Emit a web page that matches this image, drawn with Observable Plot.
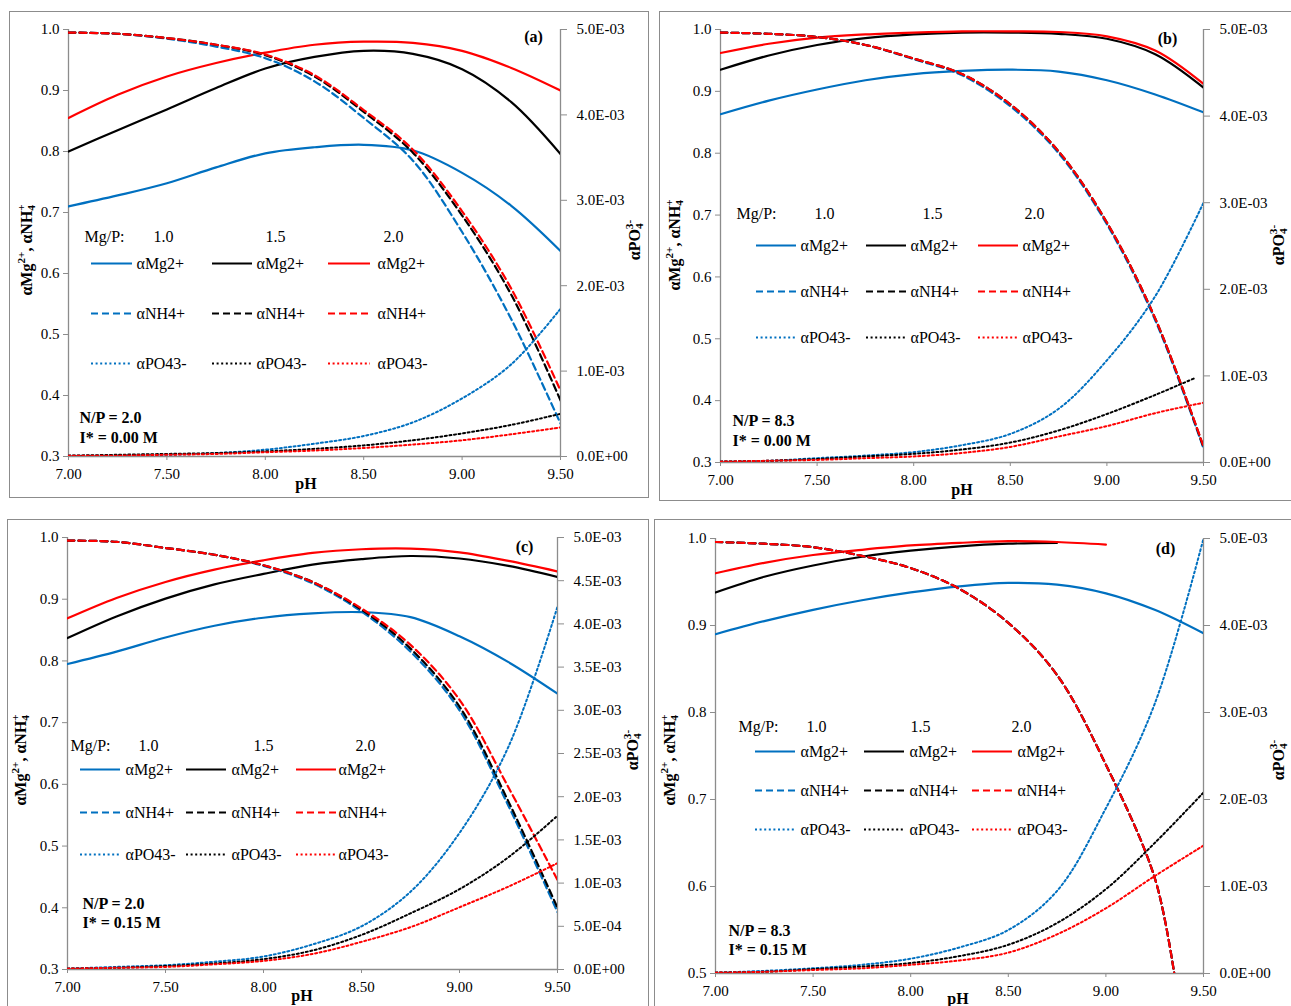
<!DOCTYPE html>
<html><head><meta charset="utf-8">
<script src="https://cdn.jsdelivr.net/npm/d3@7"></script>
<script src="https://cdn.jsdelivr.net/npm/@observablehq/plot@0.6"></script>
<style>
html,body{margin:0;padding:0;background:#fff;overflow:hidden}
#page{position:relative;width:1291px;height:1006px;overflow:hidden;background:#fff}
.panel{position:absolute;outline:1px solid #8c8c8c;background:#fff}
.panel svg{position:absolute;left:0;top:0;overflow:visible}
</style></head><body><div id="page"></div>
<script>
// ---------- data ----------
const pH = [7.00,7.25,7.50,7.75,8.00,8.25,8.50,8.75,9.00,9.25,9.50];
const pH_b15PO = [7.00,7.25,7.50,7.75,8.00,8.25,8.50,8.75,9.00,9.25,9.45];
const pH_d15Mg = [7.00,7.25,7.50,7.75,8.00,8.25,8.50,8.75];
const pH_d20Mg = [7.00,7.25,7.50,7.75,8.00,8.25,8.50,8.75,9.00];
const pH_dNH  = [7.00,7.25,7.50,7.75,8.00,8.25,8.50,8.75,9.00,9.25,9.35];

const mgpRatios = ["1.0","1.5","2.0"];
const speciesLabels = ["αMg2+","αNH4+","αPO43-"];

// (a) N/P = 2.0, I* = 0.00 M
const a_Mg10 = [0.710,0.728,0.748,0.774,0.797,0.807,0.811,0.802,0.765,0.711,0.637];
const a_Mg15 = [0.800,0.835,0.869,0.904,0.936,0.955,0.965,0.960,0.935,0.881,0.796];
const a_Mg20 = [0.855,0.893,0.923,0.945,0.962,0.975,0.980,0.978,0.965,0.937,0.900];
const a_NH10 = [0.995,0.993,0.985,0.972,0.953,0.915,0.855,0.785,0.668,0.525,0.354];
const a_NH15 = [0.995,0.993,0.986,0.975,0.958,0.923,0.865,0.798,0.695,0.565,0.392];
const a_NH20 = [0.995,0.993,0.986,0.975,0.959,0.925,0.868,0.803,0.702,0.575,0.408];
const a_PO10 = [0.00001,0.00001,0.00002,0.00004,0.00008,0.00015,0.00024,0.00040,0.00068,0.00108,0.00173];
const a_PO15 = [0.00001,0.00002,0.00003,0.00004,0.00006,0.00009,0.00013,0.00019,0.00027,0.00037,0.00050];
const a_PO20 = [0.00001,0.00001,0.00002,0.00003,0.00005,0.00007,0.00010,0.00014,0.00019,0.00026,0.00034];

// (b) N/P = 8.3, I* = 0.00 M
const b_Mg10 = [0.863,0.885,0.903,0.918,0.928,0.933,0.935,0.932,0.918,0.895,0.866];
const b_Mg15 = [0.935,0.958,0.975,0.986,0.992,0.995,0.995,0.993,0.985,0.960,0.906];
const b_Mg20 = [0.962,0.977,0.987,0.992,0.995,0.997,0.997,0.996,0.989,0.966,0.912];
const b_NH10 = [0.995,0.993,0.988,0.975,0.952,0.926,0.876,0.800,0.685,0.530,0.323];
const b_NH15 = [0.995,0.993,0.988,0.975,0.953,0.928,0.879,0.803,0.688,0.533,0.325];
const b_NH20 = [0.995,0.993,0.988,0.975,0.953,0.928,0.879,0.803,0.688,0.533,0.326];
const b_PO10 = [0.00001,0.00002,0.00005,0.00008,0.00012,0.00020,0.00033,0.00062,0.00118,0.00192,0.00300];
const b_PO15 = [0.00001,0.00002,0.00004,0.00007,0.00010,0.00015,0.00023,0.00037,0.00056,0.00078,0.00097];
const b_PO20 = [0.00001,0.00002,0.00003,0.00005,0.00007,0.00011,0.00018,0.00030,0.00042,0.00057,0.00069];

// (c) N/P = 2.0, I* = 0.15 M
const c_Mg10 = [0.795,0.815,0.838,0.857,0.870,0.877,0.879,0.871,0.840,0.798,0.747];
const c_Mg15 = [0.837,0.872,0.901,0.924,0.941,0.956,0.965,0.970,0.966,0.954,0.936];
const c_Mg20 = [0.869,0.902,0.928,0.948,0.963,0.975,0.981,0.982,0.976,0.962,0.945];
const c_NH10 = [0.995,0.993,0.983,0.972,0.954,0.926,0.880,0.815,0.720,0.565,0.393];
const c_NH15 = [0.995,0.993,0.983,0.972,0.955,0.928,0.883,0.820,0.726,0.572,0.400];
const c_NH20 = [0.995,0.993,0.983,0.972,0.955,0.928,0.885,0.826,0.737,0.595,0.445];
const c_PO10 = [0.00001,0.00003,0.00005,0.00009,0.00015,0.00029,0.00050,0.00090,0.00158,0.00258,0.00420];
const c_PO15 = [0.00001,0.00002,0.00004,0.00007,0.00012,0.00022,0.00040,0.00065,0.00093,0.00130,0.00178];
const c_PO20 = [0.00001,0.00002,0.00003,0.00006,0.00010,0.00018,0.00032,0.00049,0.00072,0.00096,0.00123];

// (d) N/P = 8.3, I* = 0.15 M
const d_Mg10 = [0.890,0.905,0.918,0.929,0.938,0.945,0.949,0.947,0.937,0.918,0.891];
const d_Mg15 = [0.938,0.956,0.969,0.979,0.986,0.991,0.994,0.995];
const d_Mg20 = [0.960,0.972,0.981,0.987,0.992,0.995,0.997,0.996,0.993];
const d_NH10 = [0.996,0.994,0.990,0.980,0.966,0.942,0.903,0.843,0.740,0.610,0.500];
const d_NH15 = [0.996,0.994,0.990,0.980,0.966,0.942,0.903,0.843,0.740,0.610,0.500];
const d_NH20 = [0.996,0.994,0.990,0.980,0.966,0.942,0.903,0.843,0.740,0.610,0.500];
const d_PO10 = [0.00001,0.00003,0.00006,0.00010,0.00017,0.00030,0.00050,0.00095,0.00190,0.00310,0.00500];
const d_PO15 = [0.00001,0.00002,0.00005,0.00008,0.00012,0.00020,0.00033,0.00058,0.00097,0.00150,0.00208];
const d_PO20 = [0.00001,0.00002,0.00004,0.00006,0.00010,0.00015,0.00024,0.00045,0.00075,0.00112,0.00147];

// ticks
const xTicks = [7.0,7.5,8.0,8.5,9.0,9.5];
const xTickLabels = ["7.00","7.50","8.00","8.50","9.00","9.50"];
const yTicks3 = [0.3,0.4,0.5,0.6,0.7,0.8,0.9,1.0];
const yTicks5 = [0.5,0.6,0.7,0.8,0.9,1.0];
const rTicks1 = [0,0.001,0.002,0.003,0.004,0.005];
const rLabels1 = ["0.0E+00","1.0E-03","2.0E-03","3.0E-03","4.0E-03","5.0E-03"];
const rTicks05 = [0,0.0005,0.001,0.0015,0.002,0.0025,0.003,0.0035,0.004,0.0045,0.005];
const rLabels05 = ["0.0E+00","5.0E-04","1.0E-03","1.5E-03","2.0E-03","2.5E-03","3.0E-03","3.5E-03","4.0E-03","4.5E-03","5.0E-03"];

// ---------- styling / layout ----------
const FONT = "'Liberation Serif','Times New Roman',serif";
const COLORS = ["#0070C0","#000000","#FF0000"];
const AXIS = "#8c8c8c";
const DASH = {Mg: null, NH: "7,4", PO: "2,2.6"};
const RMAX = 0.005;

const panels = [
  {id:"(a)", left:10, top:12, w:638, h:485, mL:58, mR:88, mT:17, mB:41, yDom:[0.3,1.0], yTicks:yTicks3, rTicks:rTicks1, rLabels:rLabels1,
   np:"N/P = 2.0", ion:"I* = 0.00 M",
   series:[[pH,a_Mg10,pH,a_Mg15,pH,a_Mg20],[pH,a_NH10,pH,a_NH15,pH,a_NH20],[pH,a_PO10,pH,a_PO15,pH,a_PO20]],
   lay:{mgp:[16,207], ratios:[85,197,315], rows:[234,284,334], sw:[[23,64],[144,184],[260,302]], lab:[68,188,309], np:[11,388,408], letter:[465,7],
        lt:[18,238], rt:[626,228], ph:[296,473]}},
  {id:"(b)", left:660, top:12, w:640, h:488, mL:60, mR:97, mT:17, mB:38, yDom:[0.3,1.0], yTicks:yTicks3, rTicks:rTicks1, rLabels:rLabels1,
   np:"N/P = 8.3", ion:"I* = 0.00 M",
   series:[[pH,b_Mg10,pH,b_Mg15,pH,b_Mg20],[pH,b_NH10,pH,b_NH15,pH,b_NH20],[pH,b_PO10,pH_b15PO,b_PO15,pH,b_PO20]],
   lay:{mgp:[16,184], ratios:[94,202,304], rows:[216,262,308], sw:[[36,76],[146,186],[258,298]], lab:[80,190,302], np:[12,391,411], letter:[447,9],
        lt:[16,233], rt:[620,233], ph:[302,479]}},
  {id:"(c)", left:8, top:520, w:640, h:495, mL:59, mR:91, mT:17, mB:46, yDom:[0.3,1.0], yTicks:yTicks3, rTicks:rTicks05, rLabels:rLabels05,
   np:"N/P = 2.0", ion:"I* = 0.15 M",
   series:[[pH,c_Mg10,pH,c_Mg15,pH,c_Mg20],[pH,c_NH10,pH,c_NH15,pH,c_NH20],[pH,c_PO10,pH,c_PO15,pH,c_PO20]],
   lay:{mgp:[3,208], ratios:[71,186,288], rows:[232,275,317], sw:[[13,53],[119,159],[229,269]], lab:[58,164,271], np:[15,366,385], letter:[457,9],
        lt:[14,240], rt:[626,230], ph:[294,477]}},
  {id:"(d)", left:655, top:520, w:645, h:495, mL:60, mR:97, mT:18, mB:42, yDom:[0.5,1.0], yTicks:yTicks5, rTicks:rTicks1, rLabels:rLabels1,
   np:"N/P = 8.3", ion:"I* = 0.15 M",
   series:[[pH,d_Mg10,pH_d15Mg,d_Mg15,pH_d20Mg,d_Mg20],[pH_dNH,d_NH10,pH_dNH,d_NH15,pH_dNH,d_NH20],[pH,d_PO10,pH,d_PO15,pH,d_PO20]],
   lay:{mgp:[23,188], ratios:[91,195,296], rows:[213,252,291], sw:[[40,80],[149,189],[257,297]], lab:[85,194,302], np:[13,392,411], letter:[450,10],
        lt:[16,240], rt:[625,240], ph:[303,480]}}
];

const xDom = [7.0, 9.5];

function richText(svg, x, y, parts, size, rotate) {
  const t = d3.select(svg).append("text")
    .attr("transform", `translate(${x},${y}) rotate(${rotate})`)
    .attr("text-anchor","middle").attr("dominant-baseline","middle")
    .attr("font-family", FONT).attr("font-weight","bold").attr("font-size", size).attr("fill","#000");
  let cur = 0;
  for (const [str, mode] of parts) {
    let shift = 0, fs = size, dx = 0;
    if (mode === "sup") { shift = -0.38*size; fs = 0.7*size; }
    if (mode === "sub") { shift = 0.22*size; fs = 0.7*size; }
    if (mode === "supx") { shift = -0.38*size; fs = 0.7*size; dx = -0.36*size; }
    const ts = t.append("tspan").attr("font-size", fs).attr("dy", shift - cur).text(str);
    if (dx) ts.attr("dx", dx);
    cur = shift;
  }
}

const page = document.getElementById("page");

for (const p of panels) {
  const iw = p.w - p.mL - p.mR, ih = p.h - p.mT - p.mB;
  const [y0, y1] = p.yDom;
  const toL = v => y0 + v / RMAX * (y1 - y0);
  const fx = rx => xDom[0] + rx / iw * (xDom[1] - xDom[0]);
  const fy = ry => y1 - ry / ih * (y1 - y0);
  const L = p.lay;

  const marks = [];
  marks.push(Plot.ruleX([xDom[0]], {stroke: AXIS, strokeWidth: 1.3}));
  marks.push(Plot.ruleX([xDom[1]], {stroke: AXIS, strokeWidth: 1.3}));
  marks.push(Plot.ruleY([y0], {stroke: AXIS, strokeWidth: 1.3}));
  marks.push(Plot.axisY({anchor:"left", ticks: p.yTicks, tickFormat: d => d.toFixed(1), tickSize: 5, tickPadding: 4, stroke: AXIS, fill: "#000", fontSize: 15}));
  const rMapped = p.rTicks.map(toL);
  marks.push(Plot.axisY({anchor:"right", ticks: rMapped, tickFormat: d => {
      let best = 0; rMapped.forEach((m,i)=>{ if (Math.abs(m-d) < Math.abs(rMapped[best]-d)) best = i; });
      return p.rLabels[best]; }, tickSize: 6, tickPadding: 10, stroke: AXIS, fill: "#000", fontSize: 15}));
  marks.push(Plot.axisX({anchor:"bottom", ticks: xTicks, tickFormat: d => xTickLabels[xTicks.indexOf(d)] ?? d.toFixed(2), tickSize: 4, tickPadding: 8, stroke: AXIS, fill:"#000", fontSize: 15}));

  const kinds = ["Mg","NH","PO"];
  kinds.forEach((k, ki) => {
    const s = p.series[ki];
    for (let c = 0; c < 3; c++) {
      const xs = s[2*c], ys = s[2*c+1];
      const rows = ys.map((v, i) => ({x: xs[i], y: k === "PO" ? toL(v) : v}));
      marks.push(Plot.line(rows, {x:"x", y:"y", stroke: COLORS[c], strokeWidth: k === "PO" ? 2 : 2.2,
        strokeDasharray: DASH[k], curve: "catmull-rom", clip: true}));
    }
  });

  marks.push(Plot.text(["Mg/P:"], {x: fx(L.mgp[0]), y: fy(L.mgp[1]), text: d => d, textAnchor:"start", lineAnchor:"middle", fontSize: 16, fill:"#000"}));
  mgpRatios.forEach((r, c) => marks.push(Plot.text([r], {x: fx(L.ratios[c]), y: fy(L.mgp[1]), text: d => d, textAnchor:"start", lineAnchor:"middle", fontSize: 16, fill:"#000"})));
  kinds.forEach((k, ki) => {
    for (let c = 0; c < 3; c++) {
      const yy = fy(L.rows[ki]);
      marks.push(Plot.ruleY([{y: yy, x1: fx(L.sw[c][0]), x2: fx(L.sw[c][1])}], {y:"y", x1:"x1", x2:"x2", stroke: COLORS[c],
        strokeWidth: k === "PO" ? 2 : 2.2, strokeDasharray: DASH[k]}));
      marks.push(Plot.text([speciesLabels[ki]], {x: fx(L.lab[c]), y: yy, text: d => d, textAnchor:"start", lineAnchor:"middle", fontSize: 16, fill:"#000"}));
    }
  });
  marks.push(Plot.text([p.np], {x: fx(L.np[0]), y: fy(L.np[1]), text: d => d, textAnchor:"start", lineAnchor:"middle", fontSize: 16, fontWeight:"bold", fill:"#000"}));
  marks.push(Plot.text([p.ion], {x: fx(L.np[0]), y: fy(L.np[2]), text: d => d, textAnchor:"start", lineAnchor:"middle", fontSize: 16, fontWeight:"bold", fill:"#000"}));
  marks.push(Plot.text([p.id], {x: fx(L.letter[0]), y: fy(L.letter[1]), text: d => d, textAnchor:"middle", lineAnchor:"middle", fontSize: 16, fontWeight:"bold", fill:"#000"}));

  const svg = Plot.plot({
    width: p.w, height: p.h,
    marginLeft: p.mL, marginRight: p.mR, marginTop: p.mT, marginBottom: p.mB,
    x: {domain: xDom, label: null},
    y: {domain: p.yDom, label: null},
    style: {fontFamily: FONT, fontSize: "15px", color: "#000", background: "transparent", overflow: "visible"},
    marks
  });

  richText(svg, L.lt[0], L.lt[1], [["αMg","n"],["2+","sup"],[", αNH","n"],["4","sub"],["+","supx"]], 16, -90);
  richText(svg, L.rt[0], L.rt[1], [["αPO","n"],["4","sub"],["3-","supx"]], 16, -90);
  richText(svg, L.ph[0], L.ph[1], [["pH","n"]], 16, 0);

  const div = document.createElement("div");
  div.className = "panel";
  div.style.left = p.left + "px"; div.style.top = p.top + "px";
  div.style.width = p.w + "px"; div.style.height = p.h + "px";
  div.appendChild(svg);
  page.appendChild(div);
}
</script></body></html>
